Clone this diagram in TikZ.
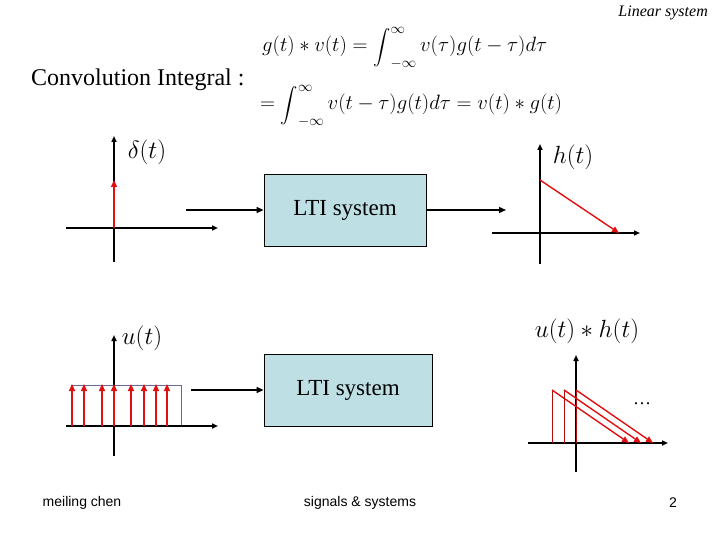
\documentclass[tikz,border=0pt]{standalone}
\usepackage{exscale}
\usepackage{fontspec}
\setmainfont{Liberation Serif}
\setsansfont{Liberation Sans}
\usetikzlibrary{arrows.meta}
\definecolor{boxfill}{HTML}{BEDFE4}
\definecolor{sigred}{HTML}{E01010}
\definecolor{rectc}{HTML}{6A6A9A}
\newcommand{\myint}{\mathop{\hbox{\fontsize{17}{19}\selectfont$\displaystyle\int$}}\nolimits}
\tikzset{
  axis/.style={line width=1.6pt,-{Triangle[length=6pt,width=5pt]}},
  plain/.style={line width=1.6pt},
  flow/.style={line width=1.4pt,-{Triangle[length=7pt,width=6pt]}},
  imp/.style={sigred,line width=1.4pt,-{Triangle[length=7pt,width=6pt]}},
  thinred/.style={sigred!80!black,line width=0.8pt},
  ltibox/.style={draw,fill=boxfill,line width=0.8pt,minimum width=162pt,minimum height=72pt,inner sep=0pt,font=\fontsize{23}{26}\selectfont},
  lbl/.style={inner sep=0pt,font=\fontsize{24}{28}\selectfont},
  foot/.style={inner sep=0pt,font=\sffamily\fontsize{14}{16}\selectfont},
}
\begin{document}
\begin{tikzpicture}[x=1pt,y=-1pt]
\useasboundingbox (0,0) rectangle (720,540);
% header
\node[anchor=east,inner sep=0pt,font=\itshape\fontsize{16}{18}\selectfont] (hdr) at (708,13) {Linear system};
\node[anchor=west,inner sep=0pt,font=\fontsize{24}{28}\selectfont] (ci) at (31,80) {Convolution Integral :};
\node[anchor=west,inner sep=0pt,font=\fontsize{22}{28}\selectfont] (eq1) at (262,48) {$g(t)*v(t)=\myint_{-\infty}^{\infty} v(\tau)g(t-\tau)d\tau$};
\node[anchor=west,inner sep=0pt,font=\fontsize{22}{28}\selectfont] (eq2) at (260,106) {$=\myint_{-\infty}^{\infty} v(t-\tau)g(t)d\tau = v(t)*g(t)$};

% top-left delta graph
\coordinate (a1b) at (114,262);
\coordinate (a1t) at (114,136);
\coordinate (a1l) at (66,228);
\coordinate (a1r) at (218,228);
\coordinate (d0) at (114,228);
\coordinate (d1) at (114,180);
\draw[axis] (a1b) -- (a1t);
\draw[axis] (a1l) -- (a1r);
\draw[imp] (d0) -- (d1);
\node[lbl] (dl) at (147,152) {$\delta(t)$};

% box 1
\node[ltibox] (box1) at (345,210) {LTI system};
\coordinate (in1) at (186,210);
\draw[flow] (in1) -- (box1.west);
\coordinate (out1) at (506,210);
\draw[flow] (box1.east) -- (out1);

% h(t) graph
\coordinate (a2b) at (540,264);
\coordinate (a2t) at (540,144);
\coordinate (a2l) at (492,233);
\coordinate (a2r) at (640,233);
\draw[axis] (a2b) -- (a2t);
\draw[axis] (a2l) -- (a2r);
\coordinate (h0) at (540,180);
\coordinate (h1) at (619,233);
\draw[imp] (h0) -- (h1);
\node[lbl] (hl) at (573,157) {$h(t)$};

% u(t) graph
\coordinate (a3b) at (114,456);
\coordinate (a3t) at (114,335);
\coordinate (a3l) at (66,426);
\coordinate (a3r) at (218,426);
\draw[rectc,line width=0.7pt] (71,426) -- (71,385) -- (181,385) -- (181,426);
\draw[axis] (a3b) -- (a3t);
\draw[axis] (a3l) -- (a3r);
\foreach \x in {72,84,102,114,131,144,156,167}{
  \draw[imp] (\x,426) -- (\x,384);
}
\node[lbl] (ul) at (142,338) {$u(t)$};

% box 2
\node[ltibox,minimum width=168pt] (box2) at (348,390) {LTI system};
\coordinate (in2) at (191,390);
\draw[flow] (in2) -- (box2.west);

% output graph
\coordinate (a4b) at (576,472);
\coordinate (a4t) at (576,355);
\coordinate (a4l) at (528,443);
\coordinate (a4r) at (668,443);
\draw[axis] (a4b) -- (a4t);
\draw[axis] (a4l) -- (a4r);
\foreach \x in {552,564,576}{
  \draw[thinred] (\x,443) -- (\x,390);
  \draw[imp] (\x,390) -- (\x+77,443);
}
\node[inner sep=0pt,font=\fontsize{18}{20}\selectfont] (dots) at (642,404) {\dots};
\node[lbl] (yl) at (587,331) {$u(t)*h(t)$};

% footer
\node[foot] (f1) at (82,503) {meiling chen};
\node[foot] (f2) at (360,503) {signals \& systems};
\node[foot] (f3) at (673,503) {2};
\end{tikzpicture}
\end{document}
